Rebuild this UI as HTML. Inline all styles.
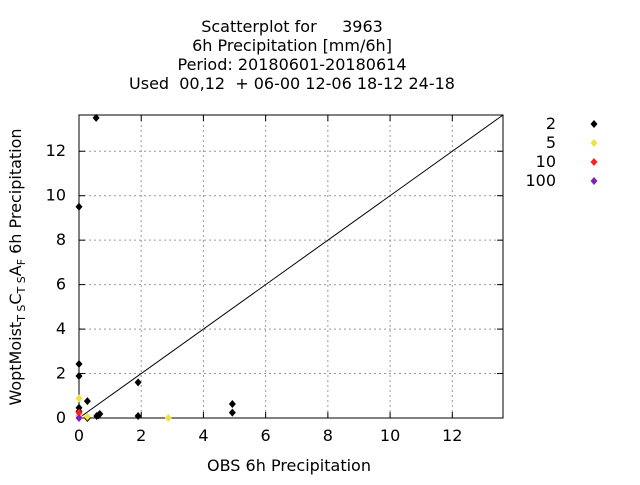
<!DOCTYPE html>
<html><head><meta charset="utf-8"><style>body{margin:0;background:#fff}svg text{font-family:"DejaVu Sans",sans-serif;font-size:16px;white-space:pre}</style></head>
<body>
<svg id="c" width="640" height="480"></svg>
<script>
const xTicks=[0,2,4,6,8,10,12];
const yTicks=[0,2,4,6,8,10,12];
const titleLines=["Scatterplot for     3963","6h Precipitation [mm/6h]","Period: 20180601-20180614","Used  00,12  + 06-00 12-06 18-12 24-18"];
const seriesNames=["2","5","10","100"];
const seriesColors=["#000000","#f0e040","#ff2020","#8020c0"];
const s2x=[0,0.55,0,0,0,0,0,0.27,0.27,0.57,0.67,0.62,1.9,1.9,4.93,4.93];
const s2y=[9.5,13.5,2.43,1.89,0.46,0.3,0.1,0.76,0,0.09,0.18,0.12,1.6,0.09,0.63,0.24];
const s5x=[0,0.27,2.87,0];
const s5y=[0.88,0.06,0,0.1];
const s10x=[0];
const s10y=[0.24];
const s100x=[0];
const s100y=[0];
const L=79,R=503,T=115,B=418,MAX=13.63;
const X=v=>L+v/MAX*(R-L), Y=v=>B-v/MAX*(B-T);
const svg=document.getElementById('c');const NS='http://www.w3.org/2000/svg';
function mk(t,a,p){const e=document.createElementNS(NS,t);for(const k in a)e.setAttribute(k,a[k]);(p||svg).appendChild(e);return e;}
titleLines.forEach((s,i)=>{const t=mk('text',{x:292,y:32+i*19,'text-anchor':'middle'});t.textContent=s;});
xTicks.forEach(v=>{if(v>0){const g=mk('line',{x1:X(v),x2:X(v),y1:T,y2:B,stroke:'#999','stroke-dasharray':'2,3'});}
 mk('line',{x1:X(v),x2:X(v),y1:B,y2:B-6,stroke:'#000'});mk('line',{x1:X(v),x2:X(v),y1:T,y2:T+6,stroke:'#000'});
 const t=mk('text',{x:X(v),y:B+23,'text-anchor':'middle'});t.textContent=v;});
yTicks.forEach(v=>{if(v>0){const g=mk('line',{x1:L,x2:R,y1:Y(v),y2:Y(v),stroke:'#999','stroke-dasharray':'2,3'});}
 mk('line',{x1:L,x2:L+6,y1:Y(v),y2:Y(v),stroke:'#000'});mk('line',{x1:R,x2:R-6,y1:Y(v),y2:Y(v),stroke:'#000'});
 const t=mk('text',{x:L-13,y:Y(v)+5,'text-anchor':'end'});t.textContent=v;});
const fr=mk('rect',{x:L,y:T,width:R-L,height:B-T,fill:'none',stroke:'#000'});
const dl=mk('line',{x1:X(0),y1:Y(0),x2:X(MAX),y2:Y(MAX),stroke:'#000','stroke-width':1});
function dia(x,y,c){const p=mk('path',{d:`M${x} ${y-4}L${x+3.5} ${y}L${x} ${y+4}L${x-3.5} ${y}Z`,fill:c});return p;}
[[s2x,s2y],[s5x,s5y],[s10x,s10y],[s100x,s100y]].forEach(([xs,ys],k)=>{xs.forEach((v,i)=>{const p=dia(X(v),Y(ys[i]),seriesColors[k]);});});
seriesNames.forEach((n,i)=>{const y=124+i*19;const t=mk('text',{x:556,y:y+5,'text-anchor':'end'});t.textContent=n;
 const p=dia(594,y,seriesColors[i]);});
const xt=mk('text',{x:289,y:471,'text-anchor':'middle'});xt.textContent='OBS 6h Precipitation';
const yt=mk('text',{x:0,y:0,'text-anchor':'middle',transform:'translate(21,267) rotate(-90)'});
yt.innerHTML='WoptMoist<tspan dy="4" font-size="11">T S</tspan><tspan dy="-4">C</tspan><tspan dy="4" font-size="11">T S</tspan><tspan dy="-4">A</tspan><tspan dy="4" font-size="11">F</tspan><tspan dy="-4"> 6h Precipitation</tspan>';

</script></body></html>
